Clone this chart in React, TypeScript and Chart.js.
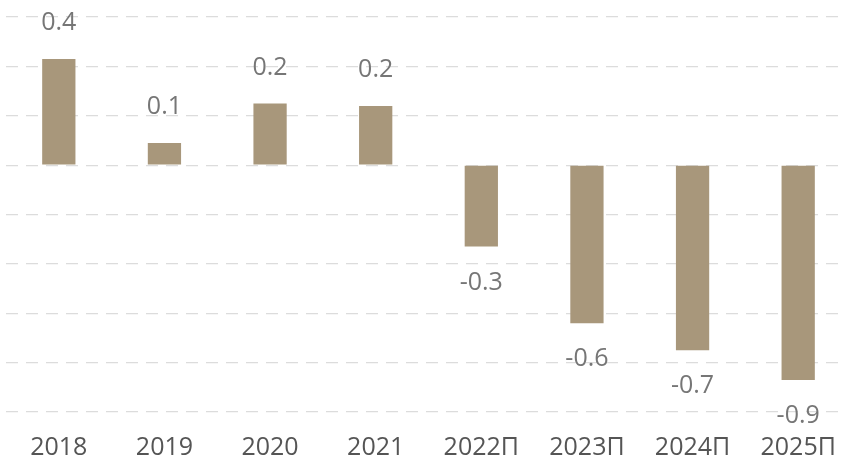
import React, { useEffect, useRef } from "react";
import { Chart, registerables } from "chart.js";

Chart.register(...registerables);

const categories = ["2018", "2019", "2020", "2021", "2022П", "2023П", "2024П", "2025П"];
const values = [0.43, 0.09, 0.25, 0.24, -0.33, -0.64, -0.75, -0.87];
const valueLabels = ["0.4", "0.1", "0.2", "0.2", "-0.3", "-0.6", "-0.7", "-0.9"];
const yMin = -1.0;
const yMax = 0.6;
const yStep = 0.2;

const FONT = "'Open Sans', Lato, sans-serif";

const labelPlugin = {
  id: "valueLabels",
  afterDatasetsDraw(chart: any) {
    const ctx = chart.ctx;
    const meta = chart.getDatasetMeta(0);
    ctx.save();
    ctx.font = `25px ${FONT}`;
    ctx.fillStyle = "#767676";
    ctx.textAlign = "center";
    ctx.textBaseline = "middle";
    meta.data.forEach((bar: any, i: number) => {
      const v = values[i];
      const y = v >= 0 ? bar.y - 36 : bar.y + 36;
      ctx.fillText(valueLabels[i], bar.x, y);
    });
    ctx.restore();
  },
};

export default function App() {
  const ref = useRef<HTMLCanvasElement | null>(null);

  useEffect(() => {
    if (!ref.current) return;
    const chart = new Chart(ref.current, {
      type: "bar",
      data: {
        labels: categories,
        datasets: [
          {
            data: values,
            backgroundColor: "#a8977b",
            borderWidth: 0,
            categoryPercentage: 1,
            barPercentage: 0.315,
          },
        ],
      },
      options: {
        animation: false,
        responsive: true,
        maintainAspectRatio: false,
        layout: { padding: { left: 6, right: 9, top: 17, bottom: 0 } },
        plugins: {
          legend: { display: false },
          tooltip: { enabled: false },
        },
        scales: {
          x: {
            grid: { display: false },
            border: { display: false },
            ticks: {
              color: "#555555",
              font: { family: FONT, size: 25 },
              padding: 13,
              maxRotation: 0,
              autoSkip: false,
            },
            afterFit: (scale: any) => {
              scale.height = 52;
            },
          },
          y: {
            min: yMin,
            max: yMax,
            ticks: { display: false, stepSize: yStep },
            grid: {
              color: "#dcdcdc",
              lineWidth: 1.2,
              drawTicks: false,
            },
            border: { display: false, dash: [12, 8] },
          },
        },
      },
      plugins: [labelPlugin],
    });
    return () => chart.destroy();
  }, []);

  return (
    <div
      style={{
        position: "fixed",
        left: 0,
        top: 0,
        width: 845,
        height: 464,
        overflow: "hidden",
        background: "#ffffff",
      }}
    >
      <div style={{ position: "relative", width: 860, height: 464 }}>
        <canvas ref={ref} />
      </div>
    </div>
  );
}
